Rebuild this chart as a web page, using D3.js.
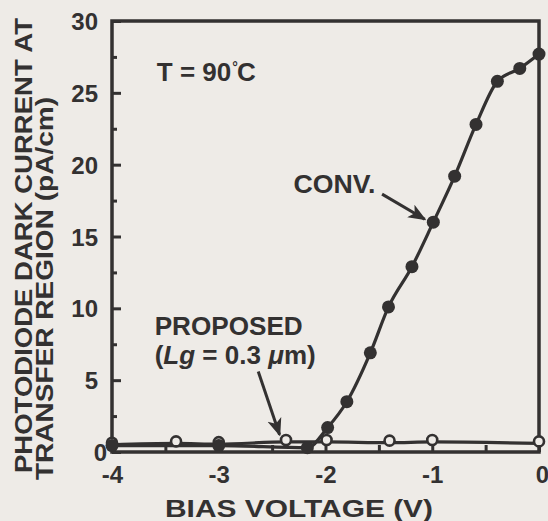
<!DOCTYPE html>
<html>
<head>
<meta charset="utf-8">
<style>
    body { margin: 0; background: #eeebe7; }
    svg { display: block; }
    text {
        font-family: 'Liberation Sans', Arial, sans-serif;
        font-weight: bold;
        fill: #333131;
    }
    .frame { fill: none; stroke: #333131; stroke-width: 3.5; }
    .axis path { display: none; }
    .axis line { stroke: #333131; stroke-width: 3; }
    .axis text { font-size: 24px; }
    .line { fill: none; stroke: #333131; stroke-width: 3.2; }
</style>
<script src="https://cdnjs.cloudflare.com/ajax/libs/d3/7.8.5/d3.min.js"></script>
</head>
<body>
<script>
"use strict";
// axis ticks
const xTicks = [-4, -3, -2, -1, 0];
const xMinor = [-3.5, -2.5, -1.5, -0.5];
const yTicks = [0, 5, 10, 15, 20, 25, 30];
const yMinor = [2.5, 7.5, 12.5, 17.5, 22.5, 27.5];

// conventional structure (filled dots)
const convV = [-4, -3, -2.17, -1.98, -1.8, -1.58, -1.41, -1.19, -0.99, -0.79, -0.59, -0.39, -0.18, 0];
const convI = [0.45, 0.45, 0.3, 1.7, 3.5, 6.9, 10.1, 12.9, 16.0, 19.2, 22.8, 25.8, 26.7, 27.7];

// proposed structure, Lg = 0.3 um (open circles)
const propV = [-4, -3.4, -3, -2.37, -1.99, -1.4, -1.0, 0];
const propI = [0.5, 0.6, 0.55, 0.7, 0.7, 0.65, 0.7, 0.6];

const W = 548, H = 521;
const margin = { top: 21, right: 9, bottom: 69, left: 112 };
const width = W - margin.left - margin.right,
    height = H - margin.top - margin.bottom;

const x = d3.scaleLinear().domain([-4, 0]).range([0, width]);
const y = d3.scaleLinear().domain([0, 30]).range([height, 0]);

const svg = d3.select("body").append("svg")
    .attr("width", W)
    .attr("height", H)
    .style("background", "#eeebe7");

const g = svg.append("g")
    .attr("transform", "translate(" + margin.left + "," + margin.top + ")");

// minor ticks
g.append("g")
    .attr("class", "axis")
    .call(d3.axisRight(y).tickValues(yMinor).tickSize(5).tickFormat(""));
g.append("g")
    .attr("class", "axis")
    .attr("transform", "translate(0," + height + ")")
    .call(d3.axisTop(x).tickValues(xMinor).tickSize(7).tickFormat(""));

// major y ticks (inward) + labels
const yAxis = g.append("g")
    .attr("class", "axis")
    .call(d3.axisRight(y).tickValues(yTicks).tickSize(9).tickFormat(d3.format("d")));
yAxis.selectAll("text")
    .attr("text-anchor", "end")
    .attr("x", function (d) { return d === 0 ? -5 : -14; })
    .attr("dy", "0.36em");

// major x ticks + labels
const xAxis = g.append("g")
    .attr("class", "axis")
    .attr("transform", "translate(0," + height + ")")
    .call(d3.axisTop(x).tickValues(xTicks).tickSize(9)
        .tickFormat(function (d) { return d === 0 ? "0" : "-" + Math.abs(d); }));
xAxis.selectAll("text")
    .attr("y", 14)
    .attr("dy", "0.71em")
    .attr("dx", function (d) { return d === 0 ? 3 : 0; });

// frame
g.append("rect")
    .attr("class", "frame")
    .attr("x", 0).attr("y", 0)
    .attr("width", width).attr("height", height);

const convData = convV.map(function (v, i) { return { v: v, i: convI[i] }; });
const propData = propV.map(function (v, i) { return { v: v, i: propI[i] }; });

const line = d3.line()
    .curve(d3.curveMonotoneX)
    .x(function (d) { return x(d.v); })
    .y(function (d) { return y(d.i); });

g.append("path").datum(propData).attr("class", "line").attr("d", line);
g.append("path").datum(convData).attr("class", "line").attr("d", line);

g.selectAll(".prop")
    .data(propData)
    .enter().append("circle")
    .attr("class", "prop")
    .attr("cx", function (d) { return x(d.v); })
    .attr("cy", function (d) { return y(d.i) - 2; })
    .attr("r", 5)
    .attr("fill", "#eeebe7")
    .attr("stroke", "#333131")
    .attr("stroke-width", 2.6);

g.selectAll(".conv")
    .data(convData)
    .enter().append("circle")
    .attr("class", "conv")
    .attr("cx", function (d) { return x(d.v); })
    .attr("cy", function (d) { return y(d.i); })
    .attr("r", 6.5)
    .attr("fill", "#333131");

// arrow heads
svg.append("defs").append("marker")
    .attr("id", "head")
    .attr("viewBox", "0 0 10 10")
    .attr("refX", 9).attr("refY", 5)
    .attr("markerWidth", 6).attr("markerHeight", 6)
    .attr("markerUnits", "strokeWidth")
    .attr("orient", "auto")
    .append("path")
    .attr("d", "M0,1 L10,5 L0,9 L2.5,5 Z")
    .attr("fill", "#333131");

function arrow(v0, i0, v1, i1) {
    g.append("line")
        .attr("x1", x(v0)).attr("y1", y(i0))
        .attr("x2", x(v1)).attr("y2", y(i1))
        .attr("stroke", "#333131")
        .attr("stroke-width", 3)
        .attr("marker-end", "url(#head)");
}
arrow(-1.47, 17.95, -1.07, 16.2);
arrow(-2.63, 5.6, -2.43, 1.2);

// annotations
const t = g.append("text")
    .attr("x", x(-3.58)).attr("y", y(25.8))
    .style("font-size", "26px");
t.append("tspan").text("T = 90");
t.append("tspan").attr("dx", 1).attr("dy", -9).style("font-size", "14px").text("°");
t.append("tspan").attr("dx", -1).attr("dy", 9).text("C");

g.append("text")
    .attr("x", x(-2.3)).attr("y", y(18.0))
    .attr("textLength", 82).attr("lengthAdjust", "spacingAndGlyphs")
    .style("font-size", "26px")
    .text("CONV.");

g.append("text")
    .attr("x", x(-3.6)).attr("y", y(8.15))
    .attr("textLength", 148).attr("lengthAdjust", "spacingAndGlyphs")
    .style("font-size", "25px")
    .text("PROPOSED");

const lg = g.append("text")
    .attr("x", x(-3.6)).attr("y", y(6.1))
    .attr("textLength", 161).attr("lengthAdjust", "spacingAndGlyphs")
    .style("font-size", "25px");
lg.append("tspan").text("(");
lg.append("tspan").style("font-style", "italic").text("Lg");
lg.append("tspan").text(" = 0.3 ");
lg.append("tspan").style("font-style", "italic").text("μ");
lg.append("tspan").text("m)");

// axis titles
svg.append("text")
    .attr("x", 299)
    .attr("y", 517)
    .attr("text-anchor", "middle")
    .attr("textLength", 268).attr("lengthAdjust", "spacingAndGlyphs")
    .style("font-size", "24px")
    .text("BIAS VOLTAGE (V)");

svg.append("text")
    .attr("transform", "translate(32,473) rotate(-90)")
    .attr("textLength", 455).attr("lengthAdjust", "spacingAndGlyphs")
    .style("font-size", "23px")
    .text("PHOTODIODE DARK CURRENT AT");

svg.append("text")
    .attr("transform", "translate(53,480) rotate(-90)")
    .attr("textLength", 383).attr("lengthAdjust", "spacingAndGlyphs")
    .style("font-size", "23px")
    .text("TRANSFER REGION (pA/cm)");
</script>
</body>
</html>
